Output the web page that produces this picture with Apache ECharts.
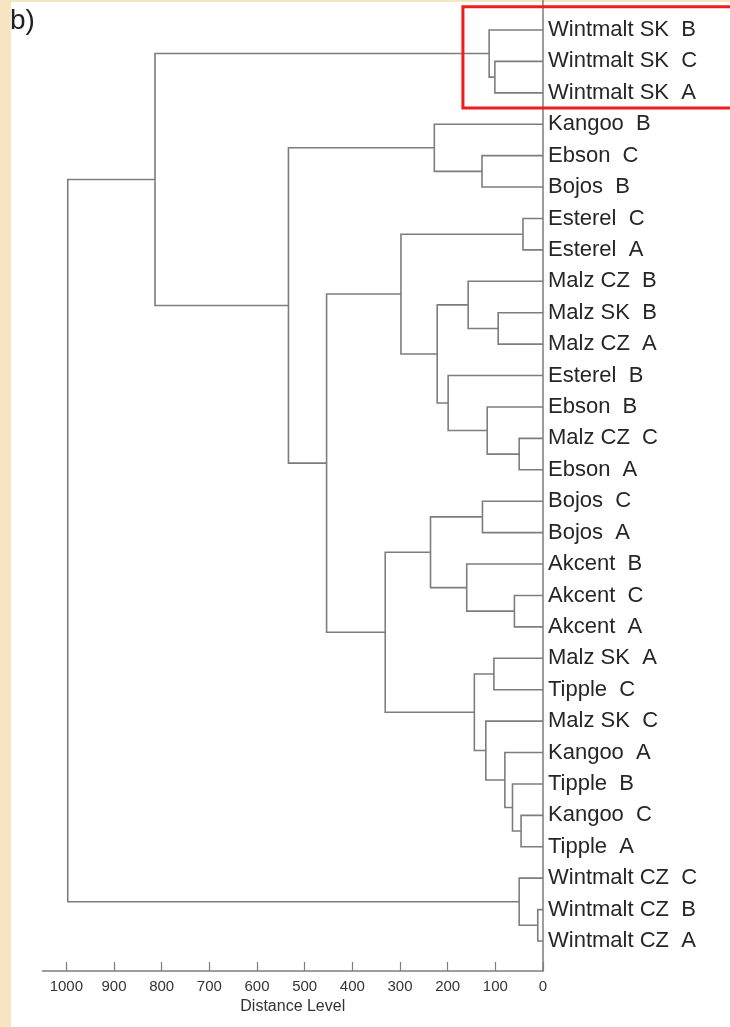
<!DOCTYPE html>
<html>
<head>
<meta charset="utf-8">
<script src="https://cdn.jsdelivr.net/npm/echarts@6/dist/echarts.min.js"></script>
<style>
  html, body { margin: 0; padding: 0; }
  body {
    width: 730px; height: 1027px; overflow: hidden;
    background:
      linear-gradient(to right, #f7e5c2 11px, rgba(0,0,0,0) 11px),
      linear-gradient(to bottom, #f7e5c2 2px, #ffffff 2px);
  }
  #chart { width: 730px; height: 1027px; }
</style>
</head>
<body>
<div id="chart"></div>
<script>
// ---- data ----
const leaves = [
  'Wintmalt SK  B', 'Wintmalt SK  C', 'Wintmalt SK  A',
  'Kangoo  B', 'Ebson  C', 'Bojos  B',
  'Esterel  C', 'Esterel  A',
  'Malz CZ  B', 'Malz SK  B', 'Malz CZ  A',
  'Esterel  B', 'Ebson  B', 'Malz CZ  C', 'Ebson  A',
  'Bojos  C', 'Bojos  A',
  'Akcent  B', 'Akcent  C', 'Akcent  A',
  'Malz SK  A', 'Tipple  C',
  'Malz SK  C', 'Kangoo  A', 'Tipple  B', 'Kangoo  C', 'Tipple  A',
  'Wintmalt CZ  C', 'Wintmalt CZ  B', 'Wintmalt CZ  A'
];
// linkage: cluster ids 0..29 are leaves, 30+ are merges in order
const mergeLeft     = [1,  0,  4,  3,  6,  9,  8, 13, 12, 11, 36, 34, 15, 18, 17, 42, 20, 25, 24, 23, 22, 46, 45, 41, 33, 31, 28, 27, 55];
const mergeRight    = [2, 30,  5, 32,  7, 10, 35, 14, 37, 38, 39, 40, 16, 19, 43, 44, 21, 26, 47, 48, 49, 50, 51, 52, 53, 54, 29, 56, 57];
const mergeDistance = [101, 113, 128, 228, 42, 94, 157, 50, 117, 199, 222, 298, 127, 60, 160, 236, 103, 46, 64, 80, 120, 144, 331, 454, 534, 814, 11, 50, 997];
const distanceTicks = [0, 100, 200, 300, 400, 500, 600, 700, 800, 900, 1000];

// ---- build dendrogram polylines in data space ----
const nodeY = leaves.map((_, i) => i);
const nodeH = leaves.map(() => 0);
const links = [];
for (let k = 0; k < mergeDistance.length; k++) {
  const a = mergeLeft[k], b = mergeRight[k], d = mergeDistance[k];
  links.push({ coords: [[nodeH[a], nodeY[a]], [d, nodeY[a]], [d, nodeY[b]], [nodeH[b], nodeY[b]]] });
  nodeY.push((nodeY[a] + nodeY[b]) / 2);
  nodeH.push(d);
}

const FONT = '"Liberation Sans", Arial, Helvetica, sans-serif';
const chart = echarts.init(document.getElementById('chart'), null, { renderer: 'canvas' });
const lineGray = '#7d7d7d';

chart.setOption({
  animation: false,
  backgroundColor: 'transparent',
  grid: { left: 42.5, right: 187, top: 0, bottom: 56, containLabel: false },
  xAxis: {
    type: 'value',
    inverse: true,
    min: 0,
    max: 1050,
    name: 'Distance Level',
    nameLocation: 'middle',
    nameGap: 28,
    nameTextStyle: { fontFamily: FONT, fontSize: 16, color: '#333' },
    axisLine: { show: true, onZero: false, lineStyle: { color: lineGray, width: 1.5 } },
    axisTick: { show: true, inside: true, length: 9, customValues: distanceTicks, lineStyle: { color: lineGray, width: 1.2 } },
    axisLabel: { show: true, customValues: distanceTicks, formatter: (v) => String(v), margin: 8, fontFamily: FONT, fontSize: 15, color: '#333' },
    splitLine: { show: false }
  },
  yAxis: {
    type: 'value',
    inverse: true,
    position: 'right',
    min: -30 / (911 / 29),
    max: 29 + 30 / (911 / 29),
    axisLine: { show: true, onZero: false, lineStyle: { color: lineGray, width: 1.5 } },
    axisTick: { show: false },
    axisLabel: {
      show: true,
      customValues: leaves.map((_, i) => i),
      formatter: (v) => leaves[Math.round(v)],
      margin: 5,
      fontFamily: FONT,
      fontSize: 22,
      color: '#262626'
    },
    splitLine: { show: false }
  },
  series: [{
    type: 'lines',
    coordinateSystem: 'cartesian2d',
    polyline: true,
    silent: true,
    lineStyle: { color: lineGray, width: 1.6, opacity: 1 },
    data: links
  }]
});

// annotation box around the Wintmalt SK cluster (defined in data space)
const boxTL = chart.convertToPixel({ xAxisIndex: 0, yAxisIndex: 0 }, [168, -0.74]);
const boxBR = chart.convertToPixel({ xAxisIndex: 0, yAxisIndex: 0 }, [0, 2.48]);
chart.setOption({
  graphic: [
    {
      type: 'rect',
      shape: { x: boxTL[0], y: boxTL[1], width: 740 - boxTL[0], height: boxBR[1] - boxTL[1] },
      style: { fill: 'none', stroke: '#ee1c1c', lineWidth: 3 },
      z: 100
    },
    {
      type: 'text',
      left: 10,
      top: 7,
      style: { text: 'b)', fontFamily: FONT, fontSize: 28, fill: '#222' },
      z: 100
    }
  ]
});
</script>
</body>
</html>
